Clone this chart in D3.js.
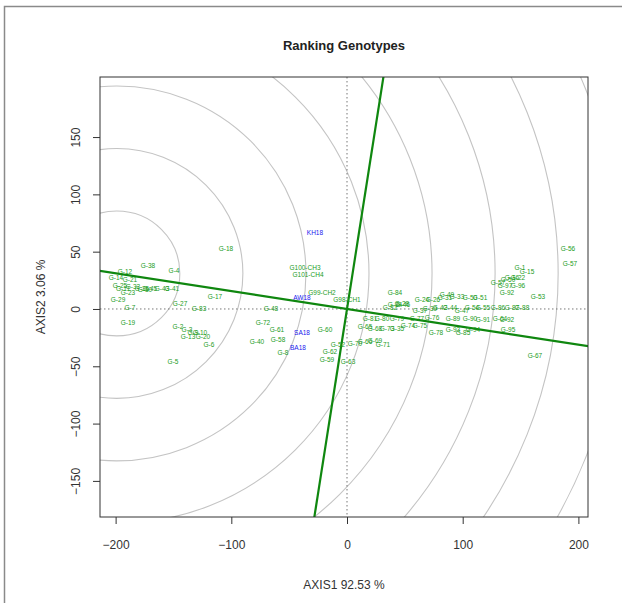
<!DOCTYPE html>
<html>
<head>
<meta charset="utf-8">
<script src="https://cdn.jsdelivr.net/npm/d3@7"></script>
<style>
    body { margin: 0; background: #fff; }
    text { font-family: "Liberation Sans", Arial, sans-serif; }
</style>
</head>
<body>
<div id="chart"></div>
<script>
// genotype scores (axis1, axis2)
const genoNames = ["G-38", "G-4", "G-18", "G-12", "G-14", "G-21", "G-25", "G-32", "G-36", "G-45",
    "G-43", "G-41", "G-23", "G-30", "G-11", "G-29", "G-7", "G-27", "G-83", "G-17",
    "G-19", "G-2", "G-3", "G-9", "G-10", "G-13", "G-20", "G-6", "G-5", "G-72",
    "G-40", "G-61", "G-58", "G-8", "G-48", "G-60", "G100-CH3", "G101-CH4", "G99-CH2", "G98-CH1",
    "G-62", "G-59", "G-63", "G-52", "G-70", "G-66", "G-69", "G-71", "G-84", "G-34",
    "G-46", "G-82", "G-24", "G-26", "G-31", "G-33", "G-37", "G-39", "G-42", "G-44",
    "G-47", "G-81", "G-80", "G-79", "G-77", "G-65", "G-68", "G-73", "G-35", "G-74",
    "G-75", "G-78", "G-85", "G-49", "G-50", "G-51", "G-54", "G-55", "G-86", "G-87",
    "G-88", "G-28", "G-76", "G-89", "G-90", "G-91", "G-64", "G-92", "G-93", "G-94",
    "G-95", "G-56", "G-57", "G-1", "G-15", "G-16", "G-22", "G-97", "G-96", "G-92",
    "G-53", "G-67", "G-57", "G-50"];
const genoX = [-172.0, -149.5, -104.6, -191.9, -199.7, -187.6, -196.2, -185.0, -177.2, -170.3,
    -159.9, -151.3, -189.3, -174.6, -193.6, -197.9, -187.6, -144.3, -127.9, -114.1,
    -189.3, -146.1, -138.3, -133.1, -127.1, -137.4, -124.5, -119.3, -150.4, -72.6,
    -77.8, -60.5, -59.6, -55.3, -65.7, -19.0, -36.3, -33.7, -21.6, 0.0,
    -14.7, -17.3, 0.9, -7.8, 6.9, 15.6, 24.2, 31.1, 41.5, 41.5,
    48.4, 37.2, 64.8, 74.3, 84.7, 95.1, 63.1, 71.7, 80.4, 89.0,
    99.4, 19.9, 30.3, 43.2, 60.5, 15.6, 24.2, 34.6, 43.2, 52.7,
    63.1, 76.9, 100.3, 86.4, 106.3, 115.0, 108.0, 117.5, 130.5, 142.6,
    151.3, 47.5, 73.5, 91.6, 106.3, 117.5, 132.2, 138.3, 91.6, 108.9,
    139.2, 191.0, 192.7, 149.5, 155.6, 142.6, 147.8, 136.6, 147.8, 138.3,
    165.1, 162.5, 130.5, 139.2];
const genoY = [37.5, 33.2, 53.2, 32.3, 27.1, 25.3, 20.1, 19.2, 18.3, 18.3,
    18.3, 18.3, 14.8, 16.6, 18.3, 7.9, 0.9, 5.2, 0.0, 10.5,
    -12.2, -15.7, -18.3, -20.9, -20.9, -24.4, -24.4, -31.4, -46.2, -12.2,
    -28.8, -18.3, -26.2, -38.4, 0.0, -18.3, 36.6, 30.5, 14.0, 7.9,
    -37.5, -44.5, -46.2, -31.4, -29.7, -28.8, -27.1, -31.4, 14.0, 3.5,
    3.5, 0.9, 7.9, 8.7, 9.6, 10.5, -0.9, 0.0, 0.9, 0.9,
    -0.9, -7.9, -7.9, -7.9, -7.9, -15.7, -16.6, -16.6, -16.6, -14.0,
    -14.0, -20.1, -20.1, 12.2, 9.6, 9.6, 0.9, 0.9, 1.7, 1.7,
    0.9, 5.2, -7.0, -7.9, -7.9, -9.6, -7.9, -9.6, -18.3, -18.3,
    -18.3, 53.2, 39.3, 36.6, 32.3, 27.1, 27.9, 20.9, 20.9, 14.0,
    11.3, -41.0, 22.7, 25.3];

// environment scores
const envNames = ["KH18", "AW18", "SA18", "BA18"];
const envX = [-27.7, -38.9, -38.9, -42.4];
const envY = [66.3, 9.6, -20.1, -33.2];

// average environment axis direction and ideal genotype centre
const aeaSlope = -0.1555;
const idealX = -199.0;
const idealY = 31.0;
const ringRadii = [54.5, 109, 163.5, 218, 272.5, 327, 381.5, 436, 490.5, 545];

const xTicks = [-200, -100, 0, 100, 200];
const yTicks = [-150, -100, -50, 0, 50, 100, 150];

const W = 622, H = 603;
const pLeft = 100, pRight = 588, pTop = 77, pBottom = 517;

const svg = d3.select("#chart").append("svg")
    .attr("width", W)
    .attr("height", H);

svg.append("rect").attr("width", W).attr("height", H).attr("fill", "#fff");

// outer frame of the figure
svg.append("path")
    .attr("d", "M4.5,603 L4.5,6.5 L622,6.5")
    .attr("fill", "none")
    .attr("stroke", "#8a8a8a")
    .attr("stroke-width", 1.5);

const x = d3.scaleLinear().domain([-213.5, 208.3]).range([pLeft, pRight]);
const y = d3.scaleLinear().domain([-181.5, 202.4]).range([pBottom, pTop]);

svg.append("defs").append("clipPath").attr("id", "plotclip")
    .append("rect")
    .attr("x", pLeft).attr("y", pTop)
    .attr("width", pRight - pLeft).attr("height", pBottom - pTop);

const plot = svg.append("g").attr("clip-path", "url(#plotclip)");

// concentric rings around the ideal genotype
plot.selectAll("ellipse.ring")
    .data(ringRadii)
    .enter()
    .append("ellipse")
    .attr("class", "ring")
    .attr("cx", x(idealX))
    .attr("cy", y(idealY))
    .attr("rx", d => x(idealX + d) - x(idealX))
    .attr("ry", d => y(idealY) - y(idealY + d))
    .attr("fill", "none")
    .attr("stroke", "#c4c4c4")
    .attr("stroke-width", 1.1);

// dotted reference axes
plot.append("line")
    .attr("x1", pLeft).attr("x2", pRight)
    .attr("y1", y(0)).attr("y2", y(0))
    .attr("stroke", "#777").attr("stroke-width", 1)
    .attr("stroke-dasharray", "1.5,2.5");
plot.append("line")
    .attr("x1", x(0)).attr("x2", x(0))
    .attr("y1", pTop).attr("y2", pBottom)
    .attr("stroke", "#777").attr("stroke-width", 1)
    .attr("stroke-dasharray", "1.5,2.5");

// average environment axis and its perpendicular
const lineColor = "#0f870f";
plot.append("line")
    .attr("x1", x(-300)).attr("y1", y(-300 * aeaSlope))
    .attr("x2", x(300)).attr("y2", y(300 * aeaSlope))
    .attr("stroke", lineColor).attr("stroke-width", 2.2);
plot.append("line")
    .attr("x1", x(300 * -aeaSlope)).attr("y1", y(300))
    .attr("x2", x(-300 * -aeaSlope)).attr("y2", y(-300))
    .attr("stroke", lineColor).attr("stroke-width", 2.2);

// genotype labels
plot.selectAll("text.geno")
    .data(genoNames)
    .enter()
    .append("text")
    .attr("class", "geno")
    .attr("x", (d, i) => x(genoX[i]))
    .attr("y", (d, i) => y(genoY[i]))
    .attr("text-anchor", "middle")
    .attr("dominant-baseline", "central")
    .attr("font-size", "6.5px")
    .attr("fill", "#1c9c1c")
    .text(d => d);

// environment labels
plot.selectAll("text.env")
    .data(envNames)
    .enter()
    .append("text")
    .attr("class", "env")
    .attr("x", (d, i) => x(envX[i]))
    .attr("y", (d, i) => y(envY[i]))
    .attr("text-anchor", "middle")
    .attr("dominant-baseline", "central")
    .attr("font-size", "6.5px")
    .attr("fill", "#2020ee")
    .text(d => d);

// box
svg.append("rect")
    .attr("x", pLeft).attr("y", pTop)
    .attr("width", pRight - pLeft).attr("height", pBottom - pTop)
    .attr("fill", "none")
    .attr("stroke", "#333").attr("stroke-width", 1);

// axes
const xAxis = svg.append("g")
    .attr("transform", `translate(0,${pBottom})`)
    .call(d3.axisBottom(x).tickValues(xTicks).tickSize(7).tickFormat(d => d < 0 ? "\u2212" + Math.abs(d) : d));
xAxis.select(".domain").remove();
xAxis.selectAll("line").attr("stroke", "#333");
xAxis.selectAll("text").attr("font-size", "12px").attr("fill", "#333").attr("dy", "1.85em");

const yAxis = svg.append("g")
    .attr("transform", `translate(${pLeft},0)`)
    .call(d3.axisLeft(y).tickValues(yTicks).tickSize(7).tickFormat(d => d < 0 ? "\u2212" + Math.abs(d) : d));
yAxis.select(".domain").remove();
yAxis.selectAll("line").attr("stroke", "#333");
yAxis.selectAll("text")
    .attr("font-size", "12px")
    .attr("fill", "#333")
    .attr("text-anchor", "middle")
    .attr("x", 0).attr("dy", 0)
    .attr("transform", "translate(-20,0) rotate(-90)");

// title and axis titles
svg.append("text")
    .attr("x", 344).attr("y", 50)
    .attr("text-anchor", "middle")
    .attr("font-size", "13px")
    .attr("font-weight", "bold")
    .attr("fill", "#222")
    .text("Ranking Genotypes");

svg.append("text")
    .attr("x", 344).attr("y", 589)
    .attr("text-anchor", "middle")
    .attr("font-size", "12px")
    .attr("fill", "#333")
    .text("AXIS1 92.53 %");

svg.append("text")
    .attr("transform", "translate(45,297) rotate(-90)")
    .attr("text-anchor", "middle")
    .attr("font-size", "12px")
    .attr("fill", "#333")
    .text("AXIS2 3.06 %");
</script>
</body>
</html>
